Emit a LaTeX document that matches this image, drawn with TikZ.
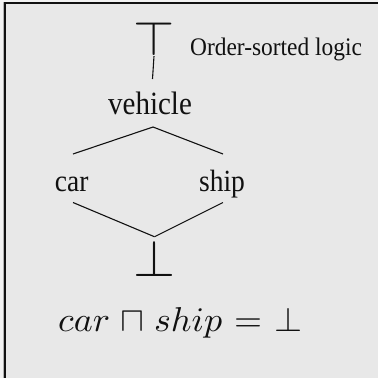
\documentclass[tikz,border=0pt]{standalone}
\usepackage[no-math]{fontspec}
\setmainfont{Liberation Serif}
\usetikzlibrary{calc}
\definecolor{bgin}{HTML}{E8E8E8}
\definecolor{bgout}{HTML}{F2F2F2}
\definecolor{ink}{HTML}{111111}
\newcommand{\vstretch}[1]{\scalebox{1}[1.12]{#1}}
\begin{document}
\begin{tikzpicture}[x=1pt,y=-1pt,
  lbl/.style={anchor=base,inner sep=0pt,text=ink},
  sym/.style={inner sep=0pt,text=ink},
  conn/.style={draw=ink,line width=1.1pt}]
\useasboundingbox (0,0) rectangle (378,378);
\fill[bgout] (0,0) rectangle (378,378);
\fill[bgin] (5,3) rectangle (378,378);
\draw[gray!60,line width=1pt] (3.5,2) -- (3.5,378);
\draw[ink,line width=1.4pt] (5,378) -- (5,3) -- (378,3);
% nodes
\node[sym] (top) at (154,39) {\scalebox{5.3}[4.85]{$\top$}};
\node[lbl,font=\fontsize{29}{29}\selectfont] (vehicle) at (150,114.5) {\vstretch{vehicle}};
\node[lbl,font=\fontsize{27.5}{27.5}\selectfont] (car) at (71.7,191) {\vstretch{car}};
\node[lbl,font=\fontsize{27.5}{27.5}\selectfont] (ship) at (222,191) {\vstretch{ship}};
\node[sym] (bot) at (154.5,258) {\scalebox{5.4}[5.2]{$\bot$}};
\node[anchor=base west,inner sep=0pt,text=ink,font=\fontsize{23.4}{23.4}\selectfont] (title) at (190,55) {\scalebox{1}[1.08]{Order-sorted logic}};
\node[anchor=base west,inner sep=0pt,text=ink] (eq) at (58,331.5) {\scalebox{3.6}[3.45]{$\medmuskip=5mu \thickmuskip=6mu car \sqcap ship = \bot$}};
% connectors
\draw[conn] (top.south) -- ($(vehicle.base)+(2.5,-35.5)$);
\draw[conn] ($(vehicle.base)+(3,12.5)$) -- ($(car.base)+(1.3,-37)$);
\draw[conn] ($(vehicle.base)+(3,12.5)$) -- ($(ship.base)+(1,-37)$);
\draw[conn] ($(car.base)+(1.3,11.5)$) -- ($(bot.north)+(0,-3)$);
\draw[conn] ($(ship.base)+(1,11.5)$) -- ($(bot.north)+(0,-3)$);
\end{tikzpicture}
\end{document}
